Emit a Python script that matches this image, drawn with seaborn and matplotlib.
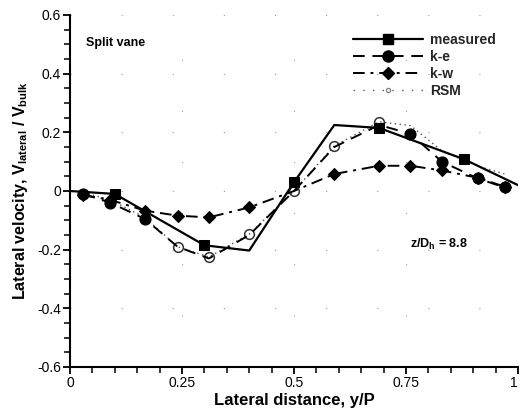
import numpy as np
import pandas as pd
import matplotlib
matplotlib.use("Agg")
import matplotlib.pyplot as plt
from matplotlib.lines import Line2D
from matplotlib.ticker import MultipleLocator, FixedLocator, FixedFormatter
import seaborn as sns

# Measured profile (markers drawn on a subset of the stations)
meas_x = [0.0, 0.1, 0.3, 0.4, 0.5, 0.59, 0.69, 0.88, 1.0]
meas_y = [0.0, -0.01, -0.185, -0.203, 0.03, 0.225, 0.215, 0.108, 0.02]
meas_marks = [1, 2, 4, 6, 7]

# Model predictions share the same stations
model_x = [0.03, 0.09, 0.167, 0.24, 0.31, 0.40, 0.50, 0.59, 0.69, 0.76, 0.83, 0.91, 0.97]
ke_y = [-0.01, -0.04, -0.095, -0.19, -0.23, -0.15, 0.0, 0.15, 0.225, 0.195, 0.10, 0.043, 0.012]
ke_marks = [0, 1, 2, 9, 10, 11, 12]
kw_y = [-0.015, -0.03, -0.067, -0.084, -0.09, -0.056, 0.0, 0.058, 0.086, 0.086, 0.07, 0.045, 0.015]
kw_marks = [0, 1, 2, 3, 4, 5, 7, 8, 9, 10, 11, 12]
rsm_y = [-0.005, -0.03, -0.09, -0.19, -0.225, -0.147, 0.0, 0.154, 0.236, 0.223, 0.137, 0.085, 0.058]
rsm_marks = [3, 4, 5, 6, 7, 8]

series_names = ["measured", "k-e", "k-w", "RSM"]

x_ticks = [0, 0.25, 0.5, 0.75, 1]
x_tick_labels = ["0", "0.25", "0.5", "0.75", "1"]
y_ticks = [-0.6, -0.4, -0.2, 0, 0.2, 0.4, 0.6]
y_tick_labels = ["-0.6", "-0.4", "-0.2", "0", "0.2", "0.4", "0.6"]

sns.set_theme(style="white")
plt.rcParams["font.family"] = ["Liberation Sans", "DejaVu Sans"]
plt.rcParams["mathtext.fontset"] = "custom"
plt.rcParams["mathtext.rm"] = "Liberation Sans:bold"
plt.rcParams["mathtext.it"] = "Liberation Sans:bold"
plt.rcParams["mathtext.bf"] = "Liberation Sans:bold"

fig = plt.figure(figsize=(5.2, 4.09), dpi=100)
ax = fig.add_axes([70 / 520, 1 - 367 / 409, 448 / 520, 352 / 409])

# faint sparse grid
for gx in x_ticks[1:]:
    ax.axvline(gx, color="#9a9a9a", lw=0.8, ls=(0, (1, 45)), zorder=0)
for gy in y_ticks:
    ax.axhline(gy, color="#9a9a9a", lw=0.8, ls=(0, (1, 45)), zorder=0)

meas_df = pd.DataFrame({"x": meas_x, "y": meas_y})
model_df = pd.DataFrame({"x": model_x, "ke": ke_y, "kw": kw_y, "rsm": rsm_y})

sns.lineplot(data=model_df, x="x", y="rsm", ax=ax, color="#555555", lw=1.0,
             linestyle=(0, (1, 2.5)), marker="o", markersize=7,
             markerfacecolor="none", markeredgecolor="#333333", markeredgewidth=1.1,
             markevery=rsm_marks, estimator=None, sort=False, zorder=2)
sns.lineplot(data=model_df, x="x", y="kw", ax=ax, color="black", lw=1.4,
             linestyle=(0, (6, 3, 1.5, 3)), marker="D", markersize=6.5,
             markerfacecolor="black", markeredgecolor="black",
             markevery=kw_marks, estimator=None, sort=False, zorder=3)
sns.lineplot(data=model_df, x="x", y="ke", ax=ax, color="black", lw=1.4,
             linestyle=(0, (6, 4)), marker="o", markersize=8,
             markerfacecolor="black", markeredgecolor="black",
             markevery=ke_marks, estimator=None, sort=False, zorder=4)
sns.lineplot(data=meas_df, x="x", y="y", ax=ax, color="black", lw=1.6,
             linestyle="-", marker="s", markersize=6.5,
             markerfacecolor="black", markeredgecolor="black",
             markevery=meas_marks, estimator=None, sort=False, zorder=5)

ax.set_xlim(0, 1)
ax.set_ylim(-0.6, 0.6)

ax.xaxis.set_major_locator(FixedLocator(x_ticks))
ax.xaxis.set_major_formatter(FixedFormatter(x_tick_labels))
ax.xaxis.set_minor_locator(MultipleLocator(0.05))
ax.yaxis.set_major_locator(FixedLocator(y_ticks))
ax.yaxis.set_major_formatter(FixedFormatter(y_tick_labels))
ax.yaxis.set_minor_locator(MultipleLocator(0.05))

ax.tick_params(axis="both", which="major", direction="out", length=5, width=1.3,
               labelsize=10, color="black", labelcolor="black", pad=1.5)
ax.tick_params(axis="both", which="minor", direction="out", length=4, width=1.1,
               color="black")
ax.tick_params(axis="x", which="both", bottom=True)
ax.tick_params(axis="y", which="both", left=True)

# keep the last x label inside the figure edge
fig.canvas.draw()
ax.get_xticklabels()[-1].set_horizontalalignment("right")

for side in ["top", "right"]:
    ax.spines[side].set_visible(False)
for side in ["left", "bottom"]:
    ax.spines[side].set_color("black")
    ax.spines[side].set_linewidth(1.5)

ax.set_xlabel("Lateral distance, y/P", fontsize=12, fontweight="bold",
              color="black", labelpad=2)
ax.set_ylabel(r"Lateral velocity, V$_{\mathrm{lateral}}$ / V$_{\mathrm{bulk}}$",
              fontsize=11.5, fontweight="bold", color="black", labelpad=5)

ax.text(0.036, 0.92, "Split vane", transform=ax.transAxes, fontsize=9,
        fontweight="bold", va="center", ha="left", color="black")
ax.text(0.759, 0.347, r"z/D$_{\mathrm{h}}$ = 8.8", transform=ax.transAxes,
        fontsize=9, fontweight="bold", va="center", ha="left", color="black")

handles = [
    Line2D([], [], color="black", lw=1.6, ls="-", marker="s", markersize=6.5),
    Line2D([], [], color="black", lw=1.4, ls=(0, (6, 4)), marker="o", markersize=8),
    Line2D([], [], color="black", lw=1.4, ls=(0, (6, 3, 1.5, 3)), marker="D", markersize=6.5),
    Line2D([], [], color="#555555", lw=1.0, ls=(0, (1, 6)), marker="o", markersize=3,
           markerfacecolor="none", markeredgecolor="#888888"),
]
leg = ax.legend(handles, series_names, loc="upper left", bbox_to_anchor=(0.632, 0.95),
                frameon=False, borderaxespad=0, borderpad=0, handlelength=5.0,
                handletextpad=0.55, labelspacing=0.22, numpoints=1,
                prop={"family": "Liberation Sans", "weight": "bold", "size": 10})

fig.savefig("out.png", dpi=100)
